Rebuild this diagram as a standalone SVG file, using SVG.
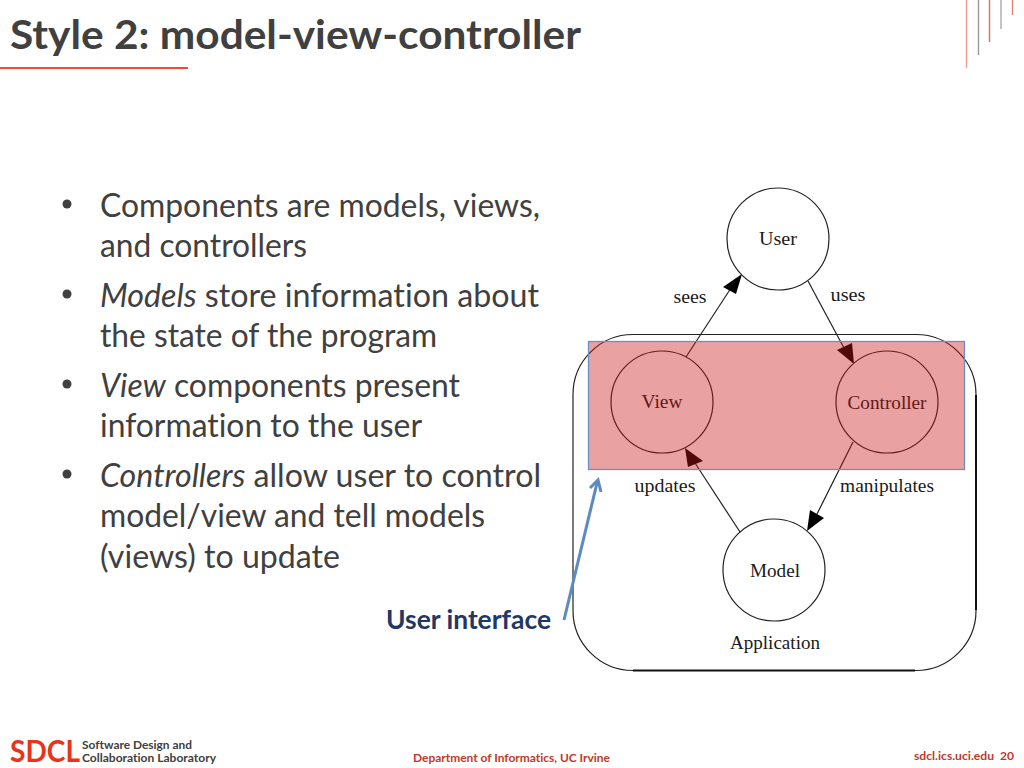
<svg xmlns="http://www.w3.org/2000/svg" width="1024" height="768" viewBox="0 0 1024 768">
<style>
.t{font-family:Lato,"Open Sans",sans-serif;font-variant-ligatures:none}
.b{font-size:32.500px;fill:#404040}
.s{font-family:"Liberation Serif",serif;font-size:19.500px;fill:#1a1a1a;text-anchor:middle}
.n{fill:none;stroke:#222;stroke-width:1.200}
.l{stroke:#222;stroke-width:1.200;fill:none}
.h{fill:#000}
.f{font-size:12px;fill:#c0392b}
</style>
<rect width="1024" height="768" fill="#fff"/>
<text class="t" x="10" y="49" font-size="41" font-weight="700" fill="#404040" textLength="571" lengthAdjust="spacingAndGlyphs">Style 2: model-view-controller</text>
<rect x="0" y="67" width="188" height="2" fill="#e8502f"/>
<g id="corner-lines" stroke-width="1.400">
<line x1="966.500" y1="0" x2="966.500" y2="68" stroke="#f29a90"/>
<line x1="978.500" y1="0" x2="978.500" y2="55" stroke="#999"/>
<line x1="989.500" y1="0" x2="989.500" y2="42" stroke="#d9705c"/>
<line x1="1001" y1="0" x2="1001" y2="29" stroke="#aaa"/>
<line x1="1012.500" y1="0" x2="1012.500" y2="15" stroke="#e0836f"/>
</g>
<g id="bullets" class="t b">
<circle cx="67" cy="204" r="4.500" fill="#404040"/>
<circle cx="67" cy="294" r="4.500" fill="#404040"/>
<circle cx="67" cy="384" r="4.500" fill="#404040"/>
<circle cx="67" cy="474" r="4.500" fill="#404040"/>
<text x="100" y="217" textLength="440" lengthAdjust="spacingAndGlyphs">Components are models, views,</text>
<text x="100" y="257" textLength="207" lengthAdjust="spacingAndGlyphs">and controllers</text>
<text x="100" y="307" textLength="439" lengthAdjust="spacingAndGlyphs"><tspan font-style="italic">Models</tspan> store information about</text>
<text x="100" y="347" textLength="337" lengthAdjust="spacingAndGlyphs">the state of the program</text>
<text x="100" y="397" textLength="360" lengthAdjust="spacingAndGlyphs"><tspan font-style="italic">View</tspan> components present</text>
<text x="100" y="437" textLength="322" lengthAdjust="spacingAndGlyphs">information to the user</text>
<text x="100" y="487" textLength="441" lengthAdjust="spacingAndGlyphs"><tspan font-style="italic">Controllers</tspan> allow user to control</text>
<text x="100" y="527" textLength="385" lengthAdjust="spacingAndGlyphs">model/view and tell models</text>
<text x="100" y="568" textLength="240" lengthAdjust="spacingAndGlyphs">(views) to update</text>
</g>
<g id="application">
<rect x="573" y="334.500" width="403" height="336" rx="60" ry="60" class="n"/>
<path d="M976 395V610M633 670.500H915" fill="none" stroke="#111" stroke-width="2"/>
<text class="s" x="775" y="649" textLength="90" lengthAdjust="spacingAndGlyphs">Application</text>
</g>
<g id="connectors">
<line class="l" x1="686" y1="357" x2="731" y2="288"/>
<polygon class="h" points="742,274 736,294 723,287"/>
<line class="l" x1="808" y1="281" x2="844" y2="348"/>
<polygon class="h" points="854,364 837,350 852,343"/>
<line class="l" x1="853" y1="442" x2="817" y2="514"/>
<polygon class="h" points="807,531 810,510 824,518"/>
<line class="l" x1="740" y1="532" x2="695" y2="463"/>
<polygon class="h" points="685,448 703,461 688,467"/>
</g>
<g id="user"><circle class="n" cx="778" cy="239" r="51"/><text class="s" x="778" y="245" textLength="38" lengthAdjust="spacingAndGlyphs">User</text></g>
<g id="view"><circle class="n" cx="662" cy="402" r="51"/><text class="s" x="662" y="408" textLength="41" lengthAdjust="spacingAndGlyphs">View</text></g>
<g id="controller"><circle class="n" cx="887" cy="402" r="51"/><text class="s" x="887" y="409" textLength="79" lengthAdjust="spacingAndGlyphs">Controller</text></g>
<g id="model"><circle class="n" cx="774" cy="570" r="51"/><text class="s" x="775" y="577" textLength="50" lengthAdjust="spacingAndGlyphs">Model</text></g>
<g id="edge-labels">
<text class="s" x="690" y="303" textLength="33" lengthAdjust="spacingAndGlyphs">sees</text>
<text class="s" x="848" y="301" textLength="35" lengthAdjust="spacingAndGlyphs">uses</text>
<text class="s" x="665" y="492" textLength="61" lengthAdjust="spacingAndGlyphs">updates</text>
<text class="s" x="887" y="492" textLength="94" lengthAdjust="spacingAndGlyphs">manipulates</text>
</g>
<g id="user-interface">
<rect x="588.500" y="341.500" width="376" height="128" fill="#c81414" fill-opacity=".4" stroke="#6f8fc4" stroke-width="1.300"/>
<line x1="564" y1="620" x2="597" y2="483" stroke="#5b8bc0" stroke-width="3"/>
<path d="M590 488L598 480L601 492" fill="none" stroke="#5b8bc0" stroke-width="3"/>
<text class="t" x="386" y="629" font-size="26.500" font-weight="700" fill="#1f3864" textLength="165" lengthAdjust="spacingAndGlyphs">User interface</text>
</g>
<g id="footer" class="t" font-weight="700">
<text x="10" y="762" font-size="31" fill="#e8341c" textLength="70" lengthAdjust="spacingAndGlyphs">SDCL</text>
<text class="f" x="82" y="749" style="fill:#404040" textLength="110" lengthAdjust="spacingAndGlyphs">Software Design and</text>
<text class="f" x="82" y="762" style="fill:#404040" textLength="134" lengthAdjust="spacingAndGlyphs">Collaboration Laboratory</text>
<text class="f" x="413" y="762" textLength="197" lengthAdjust="spacingAndGlyphs">Department of Informatics, UC Irvine</text>
<text class="f" x="914" y="760" textLength="80" lengthAdjust="spacingAndGlyphs">sdcl.ics.uci.edu</text>
<text class="f" x="1000" y="760" textLength="14" lengthAdjust="spacingAndGlyphs">20</text>
</g>
</svg>
